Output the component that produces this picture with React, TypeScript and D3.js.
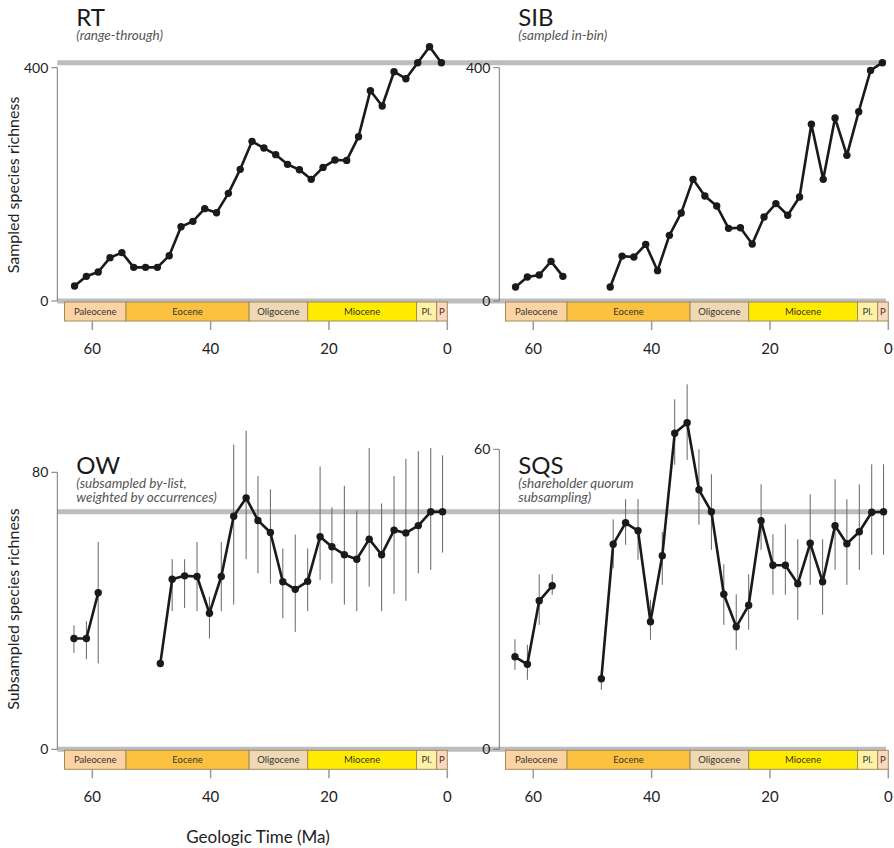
import React from "react";
import * as d3 from "d3";

// ---------- DATA ----------
const RT_AGES = [63, 61, 59, 57, 55, 53, 51, 49, 47, 45, 43, 41, 39, 37, 35, 33, 31, 29, 27, 25, 23, 21, 19, 17, 15, 13, 11, 9, 7, 5, 3, 1];
const RT_VALUES = [25.7, 42.3, 49.7, 74.3, 82.9, 57.7, 57.7, 57.7, 77.7, 127.4, 136.6, 158.3, 151.4, 184.6, 225.7, 273.7, 262.3, 250.9, 234.3, 225.1, 208.6, 229.1, 241.7, 241.1, 281.7, 360.6, 334.3, 393.1, 381.1, 408.6, 436, 408.6];

const SIB_AGES = RT_AGES;
const SIB_VALUES = [24, 41.1, 44.6, 68, 42.3, null, null, null, 24, 77, 75.4, 97, 52, 112.6, 151, 208.6, 180, 163, 124.6, 125.7, 97.7, 144, 167, 147, 178.3, 303, 208.6, 313.7, 249.7, 324.6, 395.4, 408.6];

const SUB_AGES = [63.1, 61.0, 59.0, 56.8, 54.7, 52.6, 50.6, 48.5, 46.5, 44.4, 42.3, 40.2, 38.2, 36.1, 34.0, 32.0, 29.9, 27.8, 25.7, 23.6, 21.5, 19.5, 17.4, 15.3, 13.2, 11.1, 9.0, 7.0, 4.9, 2.8, 0.8];

const OW_VALUES = [32, 32, 45.2, null, null, null, null, 24.8, 49.1, 50.1, 49.9, 39.3, 49.9, 67.3, 72.6, 66.1, 62.6, 48.4, 46.2, 48.5, 61.4, 58.5, 56.2, 54.9, 60.7, 56.2, 63.3, 62.5, 64.6, 68.6, 68.6];
const OW_HI = [35.8, 37, 59.9, null, null, null, null, null, 54.9, 54.9, 59.9, 44.1, 59.9, 88, 92, 78.9, 75.1, 58, 62, 58, 81.7, 69.9, 76.1, 68.9, 87, 71, 78.9, 83.9, 86.1, 87, 84.9];
const OW_LO = [27.9, 26, 24.8, null, null, null, null, null, 39.9, 40.8, 39.9, 32, 39.9, 41.8, 54.9, 50.8, 47.9, 37.9, 33.9, 39.9, 48.9, 47.9, 41.8, 39.9, 47, 39.9, 44.9, 42.9, 50.8, 51.8, 56.8];

const SQS_VALUES = [18.5, 17, 29.7, 32.7, null, null, null, 14.1, 41, 45.3, 43.7, 25.5, 38.7, 63.2, 65.3, 51.9, 47.5, 31, 24.5, 28.8, 45.7, 36.8, 36.8, 33.1, 41.2, 33.5, 44.7, 41.1, 43.5, 47.4, 47.5];
const SQS_HI = [22, 20.9, 35, 35, null, null, null, 15.3, 46, 50, 50, 29.9, 43.5, 70, 73, 60, 55, 37, 31, 35, 53, 43, 45, 42, 51, 42, 54, 50, 53, 57, 57];
const SQS_LO = [15.9, 13.9, 24.9, 30.9, null, null, null, 11.9, 36.2, 40.9, 37.9, 21.9, 32.9, 56.9, 57.9, 44.9, 39.9, 24.9, 19.9, 23.9, 39.9, 30.9, 30.9, 25.9, 32.9, 26.9, 35.9, 32.9, 35.9, 38.9, 38.9];

const EPOCH_NAMES = ["Paleocene", "Eocene", "Oligocene", "Miocene", "Pl.", "P"];
const EPOCH_START = [64.7, 54.3, 33.5, 23.6, 5.2, 1.8];
const EPOCH_END = [54.3, 33.5, 23.6, 5.2, 1.8, 0];
const EPOCH_COLORS = ["#fcd4a3", "#fcc13f", "#efd9b4", "#ffeb00", "#fff2a6", "#fcd8bd"];

const TIME_TICKS = [60, 40, 20, 0];

const FONT = "Lato, 'Open Sans', sans-serif";

type PanelCfg = {
  title: string;
  sub: string[];
  axisX: number;
  x0: number;
  y0: number;
  yTopPx: number;
  yMax: number;
  ages: number[];
  values: (number | null)[];
  hi?: (number | null)[];
  lo?: (number | null)[];
  bandEnd: number;
  titleY: number;
};

function Panel({ c }: { c: PanelCfg }) {
  const x = d3.scaleLinear().domain([0, 60]).range([c.x0, c.x0 - 60 * 5.9167]);
  const y = d3.scaleLinear().domain([0, c.yMax]).range([c.y0, c.yTopPx]);
  const pts = c.ages.map((a, i) => ({ a, v: c.values[i], hi: c.hi ? c.hi[i] : null, lo: c.lo ? c.lo[i] : null }));
  const line = d3
    .line<any>()
    .defined((d) => d.v != null)
    .x((d) => x(d.a))
    .y((d) => y(d.v));
  const last = c.values[c.values.length - 1] as number;
  const barTop = c.y0 + 1;
  const barH = 19;
  return (
    <g>
      {/* reference bands */}
      <line x1={c.axisX} x2={c.bandEnd} y1={y(last)} y2={y(last)} stroke="#bcbdc0" strokeWidth={5} />
      <line x1={c.axisX} x2={c.bandEnd} y1={c.y0} y2={c.y0} stroke="#bcbdc0" strokeWidth={5} />
      {/* y axis */}
      <path d={`M${c.axisX - 6},${y(c.yMax)}H${c.axisX}V${y(0)}H${c.axisX - 6}`} fill="none" stroke="#777" strokeWidth={1} />
      {[0, c.yMax].map((t) => (
        <text key={t} x={c.axisX - 9} y={y(t) + 5} textAnchor="end" fontSize={14} fill="#222" fontFamily={FONT}>
          {t}
        </text>
      ))}
      {/* geologic bar */}
      {EPOCH_NAMES.map((n, i) => (
        <g key={n}>
          <rect x={x(EPOCH_START[i])} y={barTop} width={x(EPOCH_END[i]) - x(EPOCH_START[i])} height={barH} fill={EPOCH_COLORS[i]} stroke="#a48a5c" strokeWidth={1} />
          <text x={(x(EPOCH_START[i]) + x(EPOCH_END[i])) / 2} y={barTop + 13} textAnchor="middle" fontSize={9.5} fill="#333" fontFamily={FONT}>
            {n}
          </text>
        </g>
      ))}
      {TIME_TICKS.map((t) => (
        <g key={t}>
          <line x1={x(t)} x2={x(t)} y1={barTop + barH} y2={barTop + barH + 9} stroke="#999" strokeWidth={1.5} />
          <text x={x(t)} y={barTop + barH + 33} textAnchor="middle" fontSize={15} fill="#222" fontFamily={FONT}>
            {t}
          </text>
        </g>
      ))}
      {/* error bars */}
      {pts
        .filter((d) => d.hi != null && d.lo != null)
        .map((d, i) => (
          <line key={i} x1={x(d.a)} x2={x(d.a)} y1={y(d.hi as number)} y2={y(d.lo as number)} stroke="#666" strokeWidth={1} />
        ))}
      {/* series */}
      <path d={line(pts) || ""} fill="none" stroke="#1a1a1a" strokeWidth={2.6} strokeLinejoin="round" />
      {pts
        .filter((d) => d.v != null)
        .map((d, i) => (
          <circle key={i} cx={x(d.a)} cy={y(d.v as number)} r={3.7} fill="#1a1a1a" />
        ))}
      {/* title */}
      <text x={c.axisX + 19} y={c.titleY} fontSize={24} fill="#1a1a1a" fontFamily={FONT}>
        {c.title}
      </text>
      {c.sub.map((s, i) => (
        <text key={i} x={c.axisX + 19} y={c.titleY + 14 + i * 14} fontSize={13.5} fontStyle="italic" fill="#555" fontFamily={FONT}>
          {s}
        </text>
      ))}
    </g>
  );
}

export default function App() {
  const panels: PanelCfg[] = [
    { title: "RT", sub: ["(range-through)"], axisX: 57.3, x0: 447.3, y0: 301, yTopPx: 67.7, yMax: 400, ages: RT_AGES, values: RT_VALUES, bandEnd: 500, titleY: 26 },
    { title: "SIB", sub: ["(sampled in-bin)"], axisX: 499.3, x0: 888.3, y0: 301, yTopPx: 67.7, yMax: 400, ages: SIB_AGES, values: SIB_VALUES, bandEnd: 886, titleY: 26 },
    { title: "OW", sub: ["(subsampled by-list,", "weighted by occurrences)"], axisX: 57.3, x0: 447.3, y0: 749.3, yTopPx: 472.3, yMax: 80, ages: SUB_AGES, values: OW_VALUES, hi: OW_HI, lo: OW_LO, bandEnd: 500, titleY: 473.5 },
    { title: "SQS", sub: ["(shareholder quorum", "subsampling)"], axisX: 499.3, x0: 888.3, y0: 749.3, yTopPx: 449.3, yMax: 60, ages: SUB_AGES, values: SQS_VALUES, hi: SQS_HI, lo: SQS_LO, bandEnd: 886, titleY: 473.5 },
  ];
  return (
    <svg width={894} height={848} style={{ position: "absolute", left: 0, top: 0, background: "#fff" }}>
      <rect width={894} height={848} fill="#fff" />
      {panels.map((p) => (
        <Panel key={p.title} c={p} />
      ))}
      <text transform="translate(19,185) rotate(-90)" textAnchor="middle" fontSize={16} fill="#222" fontFamily={FONT}>
        Sampled species richness
      </text>
      <text transform="translate(19,609) rotate(-90)" textAnchor="middle" fontSize={16} fill="#222" fontFamily={FONT}>
        Subsampled species richness
      </text>
      <text x={258} y={843} textAnchor="middle" fontSize={17} fill="#222" fontFamily={FONT}>
        Geologic Time (Ma)
      </text>
    </svg>
  );
}
